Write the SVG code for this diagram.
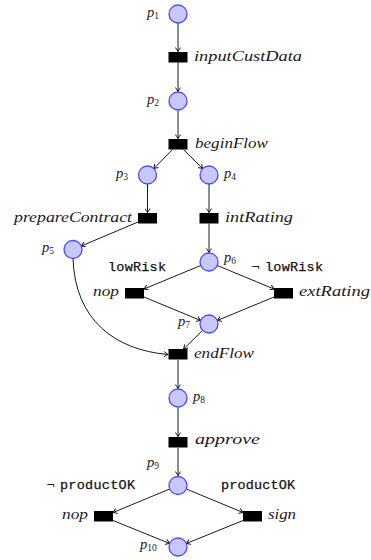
<svg xmlns="http://www.w3.org/2000/svg" width="371" height="560" viewBox="0 0 371 560">
  <style>
    .place { fill: #c8c8fc; stroke: #4a4af5; stroke-width: 1.3; }
    .trans { fill: #000; }
    .arc { fill: none; stroke: #000; stroke-width: 0.9; marker-end: url(#tip); }
    .lbl { font-family: "Liberation Serif", "DejaVu Serif", serif; font-style: italic; font-size: 14.5px; fill: #1a1a1a; }
    .sub { font-size: 9.5px; font-style: normal; }
    .tt { font-family: "Liberation Mono", "DejaVu Sans Mono", monospace; font-size: 13.5px; fill: #111; stroke: #111; stroke-width: 0.25; }
    .neg { font-family: "DejaVu Sans", sans-serif; font-size: 11px; fill: #1a1a1a; }
  </style>
  <defs>
    <marker id="tip" viewBox="-5 -3 6 6" refX="0" refY="0" markerWidth="6" markerHeight="6" markerUnits="userSpaceOnUse" orient="auto">
      <path d="M-4,-2.6 Q-1.2,-0.6 0,0 Q-1.2,0.6 -4,2.6" fill="none" stroke="#000" stroke-width="0.9"/>
    </marker>
  </defs>

  <!-- arcs between places and transitions -->
  <g id="connectors">
    <path class="arc" d="M178,23 L178,51.5"/>
    <path class="arc" d="M178,62.5 L178,91.5"/>
    <path class="arc" d="M178,110.5 L178,138.5"/>
    <path class="arc" d="M172.6,149.5 L153.8,168.6"/>
    <path class="arc" d="M183.4,149.5 L202.7,168.6"/>
    <path class="arc" d="M147.5,184 L147.5,212.5"/>
    <path class="arc" d="M209,184 L209,212.5"/>
    <path class="arc" d="M138,222 L81.3,246"/>
    <path class="arc" d="M209,223.5 L209,252.5"/>
    <path class="arc" d="M200.7,265.5 L144,289"/>
    <path class="arc" d="M217.3,265.5 L274,289"/>
    <path class="arc" d="M144,297 L200.7,320.5"/>
    <path class="arc" d="M274,297 L217.3,320.5"/>
    <path class="arc" d="M202.6,330.3 L183.6,349"/>
    <path class="arc" d="M73,258.5 C75,320 115,350 168,354.5"/>
    <path class="arc" d="M178,360 L178,388.5"/>
    <path class="arc" d="M178,407.5 L178,436.5"/>
    <path class="arc" d="M178,448 L178,475.5"/>
    <path class="arc" d="M169.7,489 L113,512.5"/>
    <path class="arc" d="M186.3,489 L243,512.5"/>
    <path class="arc" d="M113,520.5 L169.7,543.5"/>
    <path class="arc" d="M243,520.5 L186.3,543.5"/>
  </g>

  <!-- places -->
  <g id="p1"><circle class="place" cx="178" cy="14" r="9"/><text class="lbl" x="147" y="17">p<tspan class="sub" dy="2">1</tspan></text></g>
  <g id="p2"><circle class="place" cx="178" cy="101" r="9"/><text class="lbl" x="147" y="104">p<tspan class="sub" dy="2">2</tspan></text></g>
  <g id="p3"><circle class="place" cx="147.5" cy="175" r="9"/><text class="lbl" x="116" y="178">p<tspan class="sub" dy="2">3</tspan></text></g>
  <g id="p4"><circle class="place" cx="209" cy="175" r="9"/><text class="lbl" x="224" y="178">p<tspan class="sub" dy="2">4</tspan></text></g>
  <g id="p5"><circle class="place" cx="73" cy="249.5" r="9"/><text class="lbl" x="42" y="252">p<tspan class="sub" dy="2">5</tspan></text></g>
  <g id="p6"><circle class="place" cx="209" cy="262" r="9"/><text class="lbl" x="224" y="262">p<tspan class="sub" dy="2">6</tspan></text></g>
  <g id="p7"><circle class="place" cx="209" cy="324" r="9"/><text class="lbl" x="178" y="326">p<tspan class="sub" dy="2">7</tspan></text></g>
  <g id="p8"><circle class="place" cx="178" cy="398" r="9"/><text class="lbl" x="193" y="401">p<tspan class="sub" dy="2">8</tspan></text></g>
  <g id="p9"><circle class="place" cx="178" cy="485.5" r="9"/><text class="lbl" x="147" y="467">p<tspan class="sub" dy="2">9</tspan></text></g>
  <g id="p10"><circle class="place" cx="178" cy="547" r="9"/><text class="lbl" x="140" y="549">p<tspan class="sub" dy="2">10</tspan></text></g>

  <!-- transitions -->
  <g id="inputCustData"><rect class="trans" x="168.5" y="52" width="19" height="10.5"/><text class="lbl" x="194" y="61" textLength="108" lengthAdjust="spacingAndGlyphs">inputCustData</text></g>
  <g id="beginFlow"><rect class="trans" x="168.5" y="139" width="19" height="10.5"/><text class="lbl" x="195" y="148" textLength="73" lengthAdjust="spacingAndGlyphs">beginFlow</text></g>
  <g id="prepareContract"><rect class="trans" x="138" y="213" width="19" height="10.5"/><text class="lbl" x="14" y="222" textLength="118" lengthAdjust="spacingAndGlyphs">prepareContract</text></g>
  <g id="intRating"><rect class="trans" x="199.5" y="213" width="19" height="10.5"/><text class="lbl" x="225" y="222" textLength="68" lengthAdjust="spacingAndGlyphs">intRating</text></g>
  <g id="nop1"><rect class="trans" x="125" y="288" width="19" height="10.5"/><text class="lbl" x="93" y="296" textLength="26" lengthAdjust="spacingAndGlyphs">nop</text></g>
  <g id="extRating"><rect class="trans" x="274" y="288" width="19" height="10.5"/><text class="lbl" x="299" y="296" textLength="71" lengthAdjust="spacingAndGlyphs">extRating</text></g>
  <g id="endFlow"><rect class="trans" x="168.5" y="349" width="19" height="10.5"/><text class="lbl" x="194" y="358" textLength="60" lengthAdjust="spacingAndGlyphs">endFlow</text></g>
  <g id="approve"><rect class="trans" x="168.5" y="437" width="19" height="10.5"/><text class="lbl" x="195" y="444" textLength="65" lengthAdjust="spacingAndGlyphs">approve</text></g>
  <g id="nop2"><rect class="trans" x="94" y="511" width="19" height="10.5"/><text class="lbl" x="62" y="519" textLength="26" lengthAdjust="spacingAndGlyphs">nop</text></g>
  <g id="sign"><rect class="trans" x="243" y="511" width="19" height="10.5"/><text class="lbl" x="268" y="519" textLength="28" lengthAdjust="spacingAndGlyphs">sign</text></g>

  <!-- guard annotations -->
  <g id="guards">
    <text class="tt" x="108" y="271" textLength="58">lowRisk</text>
    <text class="neg" x="251" y="271">¬</text>
    <text class="tt" x="265" y="271" textLength="58">lowRisk</text>
    <text class="neg" x="46" y="489">¬</text>
    <text class="tt" x="60" y="489" textLength="75">productOK</text>
    <text class="tt" x="221" y="489" textLength="74">productOK</text>
  </g>
</svg>
